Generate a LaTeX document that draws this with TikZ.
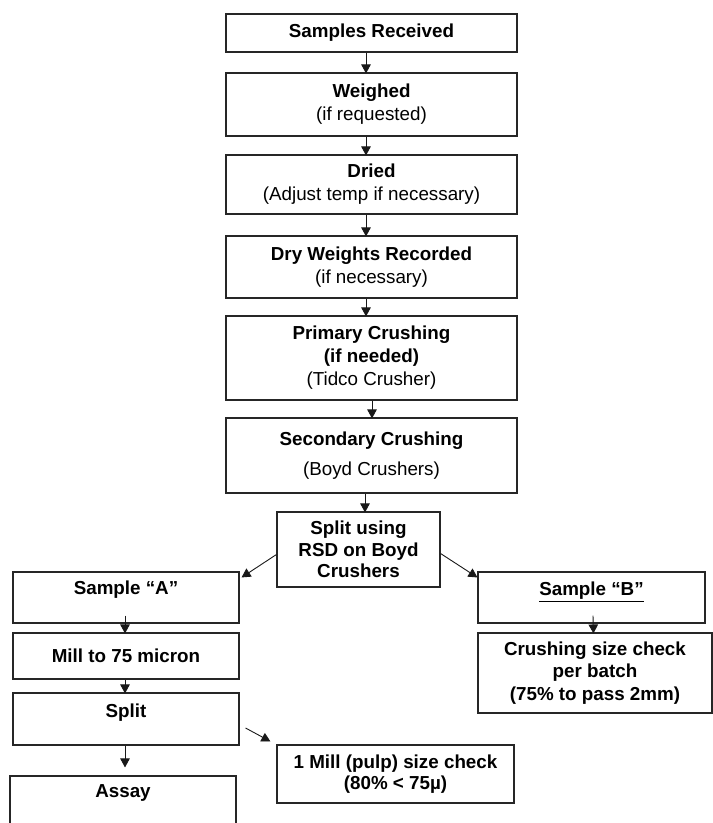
\documentclass[tikz,border=0pt]{standalone}
\usepackage{fontspec}
\setmainfont{Liberation Sans}
\usetikzlibrary{arrows.meta,calc}
\begin{document}
\begin{tikzpicture}[x=1pt,y=-1pt,
  txt/.style={font=\fontsize{18.8}{23}\selectfont},
  box/.style={draw=black!85, line width=1.1pt, inner sep=0pt, align=center, txt},
  lbl/.style={inner sep=0pt, align=center, txt},
  arr/.style={draw=black!90, line width=0.9pt, -{Triangle[length=9pt,width=9.5pt]}}]
\useasboundingbox (0,0) rectangle (713,823);
\clip (0,0) rectangle (713,823);
% main column
\node[box, minimum width=291pt, minimum height=38pt] (b1) at (371.5,33) {\textbf{Samples Received}};
\node[box, minimum width=291pt, minimum height=63pt] (b2) at (371.5,104.5) {\textbf{Weighed}\\(if requested)};
\node[box, minimum width=291pt, minimum height=59pt] (b3) at (371.5,184.5) {\textbf{Dried}\\(Adjust temp if necessary)};
\node[box, minimum width=291pt, minimum height=62pt] (b4) at (371.5,267) {\textbf{Dry Weights Recorded}\\(if necessary)};
\node[box, minimum width=291pt, minimum height=84pt] (b5) at (371.5,358) {\textbf{Primary Crushing}\\\textbf{(if needed)}\\(Tidco Crusher)};
\node[box, minimum width=291pt, minimum height=75pt] (b6) at (371.5,455.5) {\textbf{Secondary Crushing}\\[7pt](Boyd Crushers)};
\node[box, minimum width=163pt, minimum height=75pt, font=\fontsize{18.8}{21.5}\selectfont] (rsd) at (358.5,549.5) {\textbf{Split using}\\\textbf{RSD on Boyd}\\\textbf{Crushers}};
% left column
\node[box, minimum width=226pt, minimum height=51pt] (sa) at (126,597.5) {};
\node[lbl] (saT) at (126,590) {\textbf{Sample “A”}};
\node[box, minimum width=226pt, minimum height=46pt] (mill) at (126,656) {\textbf{Mill to 75 micron}};
\node[box, minimum width=226pt, minimum height=52pt] (sp) at (126,719) {};
\node[lbl] (spT) at (126,713) {\textbf{Split}};
\node[box, minimum width=226pt, minimum height=80pt] (assay) at (123,816) {};
\node[lbl] (assayT) at (123,793) {\textbf{Assay}};
\node[box, minimum width=237pt, minimum height=58pt, font=\fontsize{18.8}{21}\selectfont] (pulp) at (395.5,774) {\textbf{1 Mill (pulp) size check}\\\textbf{(80\% < 75µ)}};
% right column
\node[box, minimum width=227pt, minimum height=51pt] (sb) at (591.5,597.5) {};
\node[lbl] (sbT) at (591.5,592) {\textbf{\underline{Sample “B”}}};
\node[box, minimum width=234pt, minimum height=80pt, font=\fontsize{18.8}{22.5}\selectfont] (crush) at (595,673) {\textbf{Crushing size check}\\\textbf{per batch}\\\textbf{(75\% to pass 2mm)}};
% connectors
\draw[arr] ($(b1.south)+(-5.5,0)$) -- ($(b2.north)+(-5.5,1)$);
\draw[arr] ($(b2.south)+(-5.5,0)$) -- ($(b3.north)+(-5.5,1)$);
\draw[arr] ($(b3.south)+(-5.5,0)$) -- ($(b4.north)+(-5.5,1)$);
\draw[arr] ($(b4.south)+(-5.5,0)$) -- ($(b5.north)+(-5.5,1)$);
\draw[arr] ($(b5.south)+(0.5,0)$) -- ($(b6.north)+(0.5,1)$);
\draw[arr] ($(b6.south)+(-6.5,0)$) -- ($(rsd.north)+(6.5,1)$);
\draw[arr] ($(rsd.west)+(0,5)$) -- ($(sa.north east)+(2,6)$);
\draw[arr] ($(rsd.east)+(0,4)$) -- ($(sb.north west)+(0,6)$);
\draw[arr] ($(sa.south)+(-1,-8)$) -- ($(mill.north)+(-1,1)$);
\draw[arr] ($(mill.south)+(-1,0)$) -- ($(sp.north)+(-1,1)$);
\draw[arr] ($(sp.south)+(-1,0)$) -- ($(assay.north)+(2,-8)$);
\draw[arr] ($(sp.east)+(6,9)$) -- ($(pulp.north west)+(-6,-3)$);
\draw[arr] ($(sb.south)+(1.5,-8)$) -- ($(crush.north)+(-1.5,1)$);
\end{tikzpicture}
\end{document}
